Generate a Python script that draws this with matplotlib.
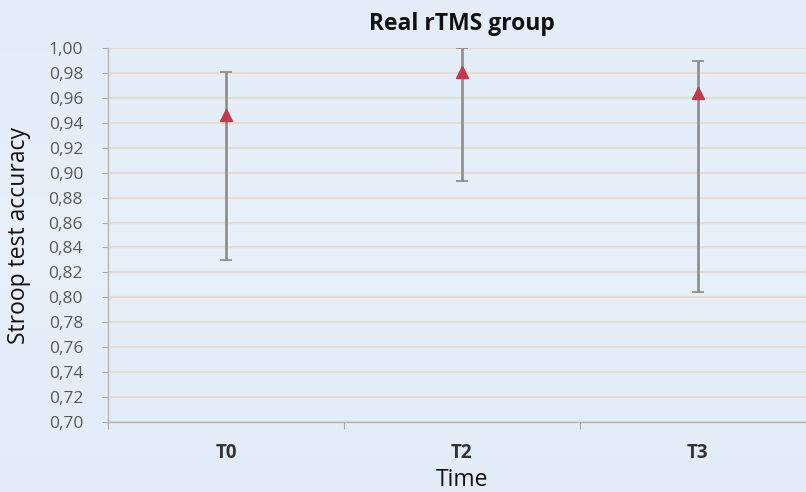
import numpy as np
import matplotlib.pyplot as plt
from matplotlib.colors import LinearSegmentedColormap

# Stroop accuracy per session (mean with upper/lower bounds)
sessions = ["T0", "T2", "T3"]
means = [0.946, 0.981, 0.964]
upper = [0.981, 1.000, 0.990]
lower = [0.830, 0.893, 0.804]

y_ticks = np.round(np.arange(0.70, 1.001, 0.02), 2)

plt.rcParams['font.family'] = ['Open Sans', 'DejaVu Sans']

fig = plt.figure(figsize=(8.06, 4.92), dpi=100)

# pale sky backdrop
bg = fig.add_axes([0, 0, 1, 1], zorder=-1)
sky = LinearSegmentedColormap.from_list("sky", ["#e3edf8", "#e8f0f9", "#e2ecf7"])
grad = np.linspace(0, 1, 256).reshape(-1, 1)
bg.imshow(grad, aspect="auto", cmap=sky, extent=[0, 1, 0, 1])
bg.axis("off")

ax = fig.add_axes([0.134, 0.1423, 0.878, 0.760])
ax.patch.set_alpha(0)

x = np.arange(len(sessions))
m = np.array(means)
err = [m - np.array(lower), np.array(upper) - m]
ax.errorbar(x, m, yerr=err, fmt="none", ecolor="#888888", elinewidth=1.8,
            capsize=4, capthick=1.2, zorder=3)
ax.plot(x, m, linestyle="none", marker="^", markersize=9,
        color="#c0394f", zorder=4)

ax.set_ylim(0.70, 1.00)
ax.set_yticks(y_ticks)
ax.set_yticklabels([f"{v:.2f}".replace(".", ",") for v in y_ticks],
                   color="#5a5a5a", fontsize=12.5)
ax.yaxis.grid(True, color="#e6dcd2", linewidth=1.6)
ax.set_axisbelow(True)

ax.set_xlim(-0.5, 2.5)
ax.set_xticks(np.arange(-0.5, 3.0, 1.0))
ax.set_xticklabels([])
ax.set_xticks(x, minor=True)
ax.set_xticklabels(sessions, minor=True, fontweight="bold", fontsize=13.5,
                   color="#333333")
ax.tick_params(axis="x", which="minor", length=0, pad=15)
ax.tick_params(axis="x", which="major", length=5, color="#aaaaaa", direction="out")
ax.tick_params(axis="y", length=4, color="#aaaaaa", pad=14)

for side in ("top", "right"):
    ax.spines[side].set_visible(False)
for side in ("left", "bottom"):
    ax.spines[side].set_color("#b5b5b5")
    ax.spines[side].set_linewidth(1.0)

fig.text(0.573, 0.951, "Real rTMS group", ha="center", va="center",
         fontsize=16.5, fontweight="bold", color="#111111")
fig.text(0.573, 0.025, "Time", ha="center", va="center", fontsize=16.5,
         color="#111111")
fig.text(0.024, 0.522, "Stroop test accuracy", ha="center", va="center",
         rotation=90, fontsize=16.5, color="#111111")

fig.savefig("out.png", dpi=100)
